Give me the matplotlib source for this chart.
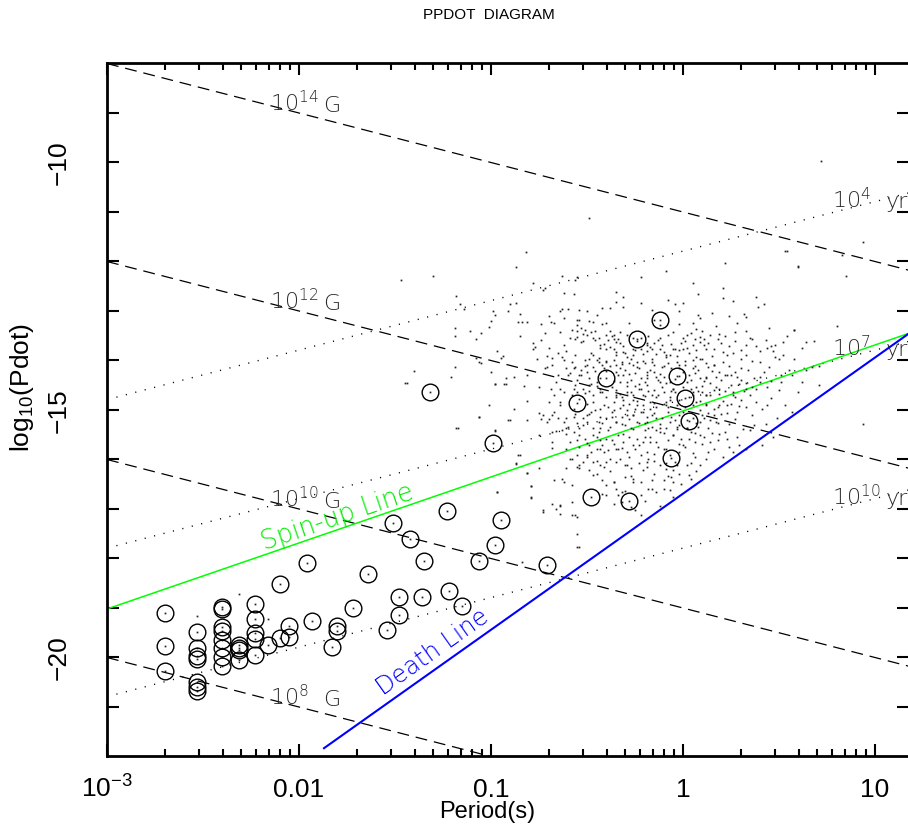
import matplotlib
matplotlib.use('Agg')
import matplotlib.pyplot as plt
from matplotlib import font_manager
import numpy as np

names = {f.name for f in font_manager.fontManager.ttflist}
sans = 'Liberation Sans Narrow' if 'Liberation Sans Narrow' in names else 'Liberation Sans'
plt.rcParams['font.family'] = [sans, 'DejaVu Sans']
plt.rcParams['mathtext.default'] = 'regular'

# circled (binary) pulsars: log10 P [s], log10 Pdot
bin_logp = [-2.70, -2.70, -2.70, -2.53, -2.53, -2.53, -2.53, -2.53, -2.53, -2.53,
            -2.40, -2.40, -2.40, -2.40, -2.40, -2.40, -2.40, -2.40,
            -2.31, -2.31, -2.31, -2.31, -2.23, -2.23, -2.23, -2.23, -2.23,
            -2.16, -2.10, -2.10, -2.05, -2.05, -1.96, -1.93, -1.80, -1.80, -1.83,
            -1.72, -1.64, -1.54, -1.48, -1.48, -1.32, -0.99, -1.23, -1.51, -1.42,
            -0.95, -0.98, -1.35, -1.06, -0.71, -1.36, -1.22, -1.15,
            -0.55, -0.40, -0.12, -0.24, -0.03, 0.01, 0.03, -0.06, -0.48, -0.28]
bin_logpdot = [-19.12, -19.77, -20.28, -19.50, -19.82, -19.97, -20.04, -20.51, -20.61, -20.69,
               -18.99, -19.03, -19.39, -19.47, -19.65, -19.82, -20.01, -20.18,
               -19.76, -19.81, -19.86, -20.07, -18.93, -19.23, -19.51, -19.64, -19.95,
               -19.75, -19.62, -18.52, -19.37, -19.59, -18.10, -19.27, -19.37, -19.47, -19.79,
               -19.01, -18.32, -19.45, -18.79, -19.16, -14.64, -15.67, -17.06, -17.29, -17.61,
               -17.24, -17.73, -18.07, -18.07, -18.15, -18.79, -18.67, -18.97,
               -14.86, -14.36, -13.19, -13.58, -14.33, -14.76, -15.24, -15.98, -16.76, -16.84]

# isolated pulsars, (log10 P, log10 Pdot)
field_upper_left = [
    (-0.82, -11.81), (-0.87, -12.13), (-1.30, -12.31), (-1.18, -12.71), (-0.78, -12.44),
    (-0.72, -12.54), (-0.73, -12.58), (-0.63, -12.31), (-0.56, -12.38), (-0.55, -12.33),
    (-0.62, -12.65), (-0.57, -12.67), (-0.35, -12.62), (-0.35, -12.82), (-1.16, -12.87),
    (-1.14, -12.96), (-0.99, -13.02), (-0.98, -13.09), (-0.91, -13.00), (-0.90, -12.87),
    (-0.87, -12.85), (-1.00, -13.21), (-1.01, -13.34), (-0.85, -13.08), (-0.86, -13.24),
    (-0.84, -13.24), (-0.81, -13.23), (-0.70, -13.11), (-0.69, -13.24), (-0.64, -13.01),
    (-0.60, -12.96), (-0.63, -12.96), (-0.54, -12.99), (-0.50, -13.01), (-0.42, -12.94),
    (-0.38, -12.94), (-1.19, -13.36), (-1.11, -13.41), (-1.19, -13.52), (-1.08, -13.58),
    (-1.05, -13.46), (-0.85, -13.51), (-0.74, -13.27), (-0.67, -13.26), (-0.64, -13.44),
    (-0.55, -13.29), (-0.55, -13.41), (-0.54, -13.19), (-0.51, -13.39), (-0.49, -13.21),
    (-0.47, -13.24), (-0.48, -13.43), (-0.42, -13.28), (-0.40, -13.26), (-0.38, -13.41),
    (-0.36, -13.50), (-0.36, -13.58), (-0.78, -13.65), (-0.77, -13.73), (-0.78, -13.77),
    (-0.74, -13.60), (-0.70, -13.75), (-0.62, -13.70), (-0.61, -13.82), (-0.59, -13.55),
    (-0.56, -13.58), (-0.55, -13.53), (-0.53, -13.63), (-0.46, -13.60), (-0.43, -13.75),
    (-0.40, -13.77), (-0.38, -13.73), (-0.35, -13.63), (-0.35, -13.83), (-0.97, -13.82),
    (-0.94, -13.91), (-0.95, -13.95), (-1.08, -13.95), (-1.06, -14.04), (-1.05, -14.07),
    (-0.76, -13.97), (-0.71, -13.91), (-0.68, -13.95), (-0.63, -13.93), (-0.62, -14.00),
    (-0.56, -13.90), (-0.51, -14.00), (-0.49, -13.97), (-0.47, -13.90), (-0.45, -14.00),
    (-0.40, -14.02), (-0.36, -14.00), (-0.35, -14.10), (-1.19, -14.14), (-1.21, -14.34),
    (-1.00, -14.25), (-0.92, -14.37), (-0.88, -14.34), (-0.81, -14.31), (-0.72, -14.17),
    (-0.71, -14.14), (-0.68, -14.10), (-0.65, -14.31), (-0.61, -14.17), (-0.59, -14.27),
    (-0.56, -14.14), (-0.53, -14.20), (-0.50, -14.24), (-0.49, -14.37), (-0.47, -14.14),
    (-0.42, -14.10), (-0.41, -14.17), (-0.35, -14.24), (-0.98, -14.49), (-0.92, -14.49),
    (-0.83, -14.52), (-0.75, -14.54), (-0.69, -14.58), (-0.67, -14.71), (-0.62, -14.64),
    (-0.58, -14.71), (-0.55, -14.64), (-0.52, -14.58), (-0.49, -14.51), (-0.47, -14.71),
    (-0.43, -14.58), (-0.35, -14.61), (-0.35, -14.71),
]
field_upper_right = [
    (0.54, -11.79), (0.22, -12.04), (0.60, -12.13), (-0.09, -12.20), (-0.22, -12.33),
    (0.05, -12.44), (0.21, -12.55), (0.08, -12.67), (-0.31, -12.72), (-0.08, -12.79),
    (-0.04, -12.87), (0.00, -12.85), (0.21, -12.75), (0.26, -12.81), (0.38, -12.73),
    (0.42, -12.87), (0.39, -12.92), (0.24, -13.12), (0.32, -13.07), (0.33, -13.14),
    (-0.22, -12.84), (-0.31, -12.92), (-0.16, -12.98), (-0.02, -13.01), (-0.15, -13.19),
    (0.08, -13.09), (0.09, -13.16), (-0.02, -13.28), (0.07, -13.38), (0.10, -13.41),
    (0.17, -13.31), (0.19, -13.47), (0.27, -13.43), (0.33, -13.41), (0.36, -13.58),
    (0.52, -13.64), (0.54, -13.51), (0.58, -13.39), (0.62, -13.75), (0.64, -13.63),
    (0.68, -13.62), (0.44, -13.75), (0.46, -13.71), (0.47, -13.82), (0.38, -13.71),
    (0.33, -13.89), (0.30, -13.97), (0.36, -14.02), (0.40, -14.04), (0.45, -14.14),
    (0.48, -13.93), (0.52, -13.89), (0.58, -13.97), (0.21, -13.83), (0.09, -13.53),
    (0.11, -13.58), (0.12, -13.77), (0.00, -13.55), (0.01, -13.62), (0.02, -13.75),
    (0.05, -13.70), (-0.02, -13.80), (-0.04, -13.77), (-0.07, -13.90), (-0.09, -13.93),
    (-0.12, -13.77), (-0.14, -13.87), (-0.16, -13.77), (-0.19, -13.65), (-0.19, -13.82),
    (-0.22, -13.77), (-0.26, -13.89), (-0.29, -13.93), (-0.31, -13.83), (-0.32, -14.04),
    (-0.28, -14.07), (-0.24, -14.04), (-0.23, -14.17), (-0.20, -14.07), (-0.16, -13.97),
    (-0.15, -14.10), (-0.11, -14.14), (-0.08, -14.07), (-0.03, -14.04), (-0.02, -14.17),
    (0.01, -14.10), (0.05, -14.00), (0.07, -13.93), (0.10, -13.97), (0.12, -14.07),
    (0.16, -14.10), (0.19, -14.24), (0.22, -14.31), (0.27, -14.24), (0.25, -14.51),
    (0.30, -14.41), (0.33, -14.47), (0.37, -14.37), (0.40, -14.34), (0.51, -14.31),
    (0.57, -14.31), (0.64, -14.20), (0.67, -14.14), (0.71, -14.12), (-0.31, -14.31),
    (-0.29, -14.44), (-0.25, -14.27), (-0.22, -14.37), (-0.19, -14.31), (-0.15, -14.24),
    (-0.13, -14.41), (-0.10, -14.34), (-0.09, -14.47), (0.03, -14.31), (0.06, -14.27),
    (0.09, -14.37), (0.12, -14.34), (0.14, -14.47), (0.17, -14.54), (0.07, -14.54),
    (0.10, -14.64), (0.05, -14.71), (-0.05, -14.58), (-0.10, -14.64), (-0.15, -14.61),
    (-0.19, -14.51), (-0.23, -14.58), (-0.26, -14.71), (-0.29, -14.64), (-0.32, -14.74),
    (-0.21, -14.71), (-0.14, -14.74), (-0.07, -14.74), (0.12, -14.71), (0.19, -14.68),
    (0.26, -14.64), (0.38, -14.58), (0.44, -14.54), (0.51, -14.44),
]
field_lower_left = [
    (-1.01, -14.90), (-1.06, -15.15), (-0.90, -15.22), (-0.81, -15.22), (-1.18, -15.38),
    (-0.98, -15.43), (-0.75, -15.08), (-0.73, -15.11), (-0.74, -15.19), (-0.70, -15.19),
    (-0.67, -15.05), (-0.64, -14.91), (-0.65, -15.18), (-0.62, -15.25), (-0.61, -15.18),
    (-0.60, -15.35), (-0.57, -15.15), (-0.55, -15.28), (-0.54, -15.38), (-0.52, -15.18),
    (-0.50, -15.26), (-0.49, -15.10), (-0.47, -15.37), (-0.43, -15.15), (-0.42, -15.28),
    (-0.40, -15.18), (-0.37, -15.05), (-0.35, -15.25), (-0.68, -15.45), (-0.66, -15.44),
    (-0.63, -15.42), (-0.61, -15.49), (-0.57, -15.45), (-0.59, -15.65), (-0.55, -15.62),
    (-0.54, -15.76), (-0.51, -15.59), (-0.49, -15.72), (-0.47, -15.52), (-0.48, -15.86),
    (-0.45, -15.79), (-0.43, -15.62), (-0.42, -15.72), (-0.40, -15.59), (-0.39, -15.82),
    (-0.36, -15.69), (-0.34, -15.52), (-0.34, -15.79), (-0.68, -15.78), (-0.85, -15.91),
    (-0.87, -16.11), (-0.81, -16.28), (-0.75, -16.19), (-0.67, -16.43), (-0.62, -16.46),
    (-0.61, -16.18), (-0.58, -15.99), (-0.55, -15.92), (-0.54, -16.19), (-0.52, -16.06),
    (-0.50, -15.96), (-0.49, -16.23), (-0.47, -16.06), (-0.45, -16.30), (-0.43, -16.13),
    (-0.41, -16.16), (-0.38, -15.99), (-0.35, -16.06), (-0.42, -16.43), (-0.40, -16.53),
    (-0.36, -16.46), (-0.35, -16.60), (-0.79, -16.54), (-0.79, -16.79), (-0.97, -16.67),
    (-0.64, -16.94), (-0.73, -17.07), (-0.66, -17.00), (-0.58, -16.87), (-0.56, -17.14),
    (-0.55, -17.17), (-0.40, -16.73), (-0.36, -16.90), (-0.34, -16.73), (-0.55, -17.51),
    (-0.54, -17.78),
]
field_lower_right = [
    (-0.31, -14.81), (-0.28, -14.88), (-0.24, -14.83), (-0.21, -14.91), (-0.17, -14.84),
    (-0.14, -14.95), (-0.10, -14.88), (-0.07, -14.81), (-0.03, -14.91), (0.07, -14.84),
    (0.12, -14.88), (0.16, -14.98), (0.19, -14.91), (0.25, -14.88), (0.30, -14.81),
    (0.33, -14.95), (0.38, -14.84), (0.44, -14.91), (0.49, -15.18), (0.28, -15.05),
    (0.23, -15.08), (0.13, -15.08), (0.11, -15.18), (0.17, -15.25), (0.07, -15.28),
    (0.02, -15.38), (-0.02, -15.32), (-0.07, -15.25), (-0.11, -15.18), (-0.15, -15.08),
    (-0.19, -15.15), (-0.22, -15.05), (-0.26, -15.11), (-0.29, -15.01), (-0.32, -15.15),
    (-0.30, -15.32), (-0.27, -15.38), (-0.23, -15.28), (-0.20, -15.42), (-0.16, -15.35),
    (-0.12, -15.45), (-0.09, -15.38), (-0.05, -15.52), (-0.01, -15.59), (0.04, -15.45),
    (0.06, -15.65), (0.11, -15.55), (0.14, -15.65), (0.19, -15.49), (0.23, -15.59),
    (0.28, -15.55), (0.29, -15.72), (0.33, -15.79), (0.26, -15.86), (0.21, -15.96),
    (0.16, -15.79), (0.13, -15.86), (0.12, -15.99), (0.09, -16.13), (0.06, -15.96),
    (0.04, -16.09), (0.01, -15.76), (-0.02, -15.86), (-0.04, -16.06), (-0.10, -15.79),
    (-0.14, -15.65), (-0.17, -15.55), (-0.21, -15.65), (-0.24, -15.59), (-0.28, -15.55),
    (-0.31, -15.65), (-0.29, -15.86), (-0.25, -15.79), (-0.22, -15.92), (-0.18, -15.99),
    (-0.15, -15.89), (-0.12, -16.13), (-0.09, -16.09), (-0.05, -16.23), (-0.02, -16.30),
    (0.03, -16.33), (0.04, -16.40), (-0.01, -16.50), (-0.06, -16.36), (-0.10, -16.43),
    (-0.15, -16.30), (-0.19, -16.16), (-0.23, -16.09), (-0.27, -16.19), (-0.30, -16.13),
    (-0.30, -16.36), (-0.26, -16.40), (-0.22, -16.46), (-0.18, -16.60), (-0.16, -16.43),
    (-0.10, -16.60), (-0.05, -16.77), (-0.14, -16.67), (-0.22, -16.73), (-0.25, -17.04),
    (-0.22, -17.14), (-0.27, -16.97), (-0.32, -16.67), (-0.32, -16.87), (0.41, -15.72),
    (0.37, -15.32), (0.35, -15.42),
]
field_core = [
    (-0.55, -13.19), (-0.53, -13.36), (-0.50, -13.50), (-0.43, -13.70), (-0.36, -13.77),
    (-0.26, -13.77), (-0.35, -13.90), (-0.40, -14.04), (-0.50, -14.10), (-0.57, -14.17),
    (-0.54, -14.31), (-0.45, -14.44), (-0.33, -14.17), (-0.26, -14.10), (-0.16, -14.04),
    (-0.09, -13.90), (0.00, -13.77), (0.09, -13.97), (0.16, -14.10), (0.23, -14.31),
    (0.19, -14.58), (0.12, -14.71), (0.05, -14.91), (-0.02, -15.11), (-0.09, -14.91),
    (-0.16, -14.71), (-0.22, -14.58), (-0.29, -14.71), (-0.36, -14.84), (-0.43, -14.98),
    (-0.50, -15.11), (-0.57, -14.98), (-0.64, -14.84), (-0.68, -15.11), (-0.61, -15.38),
    (-0.54, -15.52), (-0.43, -15.38), (-0.35, -15.25), (-0.26, -15.11), (-0.19, -15.25),
    (-0.12, -15.38), (-0.05, -15.52), (0.02, -15.38), (0.09, -15.25), (0.16, -15.11),
    (0.23, -14.91), (0.26, -14.71), (0.33, -14.58), (0.40, -14.44), (0.30, -14.17),
    (0.23, -13.90), (0.16, -13.77), (0.09, -13.63), (0.02, -13.50), (-0.05, -13.43),
    (-0.12, -13.56), (-0.19, -13.70), (-0.26, -13.56), (-0.33, -13.43), (-0.40, -13.50),
    (-0.47, -13.56), (-0.43, -15.79), (-0.35, -15.79), (-0.26, -15.72), (-0.17, -15.66),
    (-0.09, -15.79), (0.00, -15.72), (0.09, -15.52), (-0.50, -15.92), (-0.40, -16.06),
    (-0.29, -16.13), (-0.19, -16.06), (-0.09, -16.20), (0.02, -16.13), (-0.26, -16.47),
    (-0.16, -16.60), (-0.05, -16.47), (-0.36, -16.47), (-0.47, -16.33), (-0.54, -16.13),
    (-0.61, -15.79), (-0.68, -15.66), (-0.75, -15.52), (-0.71, -15.25), (-0.64, -14.58),
    (-0.57, -14.58), (-0.43, -14.64), (-0.33, -14.44), (-0.19, -14.37), (-0.12, -14.44),
    (-0.05, -14.58), (0.04, -14.58), (0.12, -14.37), (0.05, -14.17), (-0.02, -14.10),
    (-0.52, -13.62), (-0.48, -13.85), (-0.44, -13.95), (-0.39, -13.60), (-0.33, -13.66),
    (-0.30, -13.85), (-0.27, -13.98), (-0.24, -13.62), (-0.21, -13.88), (-0.17, -13.74),
    (-0.13, -13.60), (-0.10, -13.83), (-0.06, -13.68), (-0.03, -13.92), (0.03, -13.86),
    (0.06, -13.58), (0.13, -13.66), (0.15, -13.92), (0.18, -13.58), (0.24, -13.72),
    (0.27, -13.62), (0.30, -13.80), (-0.58, -14.05), (-0.53, -14.30), (-0.46, -14.22),
    (-0.43, -14.36), (-0.38, -14.12), (-0.34, -14.30), (-0.30, -14.20), (-0.27, -14.40),
    (-0.24, -14.15), (-0.20, -14.45), (-0.17, -14.20), (-0.12, -14.28), (-0.06, -14.16),
    (-0.04, -14.38), (0.00, -14.25), (0.02, -14.45), (0.08, -14.20), (0.11, -14.42),
    (0.15, -14.22), (0.20, -14.40), (0.24, -14.12), (0.28, -14.35), (-0.56, -14.50),
    (-0.51, -14.66), (-0.45, -14.52), (-0.40, -14.75), (-0.37, -14.55), (-0.33, -14.68),
    (-0.29, -14.52), (-0.26, -14.80), (-0.23, -14.48), (-0.18, -14.62), (-0.15, -14.86),
    (-0.11, -14.55), (-0.08, -14.95), (-0.04, -14.65), (0.00, -14.55), (0.03, -14.75),
    (0.08, -14.62), (0.12, -14.90), (0.16, -14.60), (0.21, -14.82), (0.27, -14.74),
    (0.32, -14.62), (-0.50, -14.88), (-0.46, -15.02), (-0.41, -14.90), (-0.37, -15.15),
    (-0.33, -14.96), (-0.28, -15.20), (-0.25, -14.98), (-0.20, -15.28), (-0.16, -15.12),
    (-0.12, -15.30), (-0.08, -15.05), (-0.04, -15.22), (0.00, -15.05), (0.05, -15.18),
    (0.09, -15.00), (0.14, -15.22), (0.20, -15.10), (0.24, -15.30), (-0.44, -15.45),
    (-0.38, -15.35), (-0.31, -15.50), (-0.26, -15.40), (-0.20, -15.55), (-0.14, -15.42),
    (-0.08, -15.62), (-0.03, -15.40), (0.03, -15.60), (0.08, -15.35), (0.15, -15.48),
]
field_core_more = [
    (-0.58, -13.40), (-0.52, -13.48), (-0.46, -13.42), (-0.44, -13.55), (-0.41, -13.68),
    (-0.37, -13.52), (-0.34, -13.58), (-0.31, -13.72), (-0.29, -13.49), (-0.25, -13.80),
    (-0.22, -13.55), (-0.18, -13.52), (-0.15, -13.66), (-0.11, -13.70), (-0.08, -13.50),
    (-0.05, -13.78), (-0.01, -13.66), (0.04, -13.45), (0.07, -13.80), (0.11, -13.70),
    (0.14, -13.50), (0.20, -13.65), (0.22, -13.52), (0.26, -13.85), (0.33, -13.70),
    (0.35, -13.55), (0.40, -13.82), (0.43, -13.60), (0.48, -13.70), (0.50, -13.98),
    (-0.60, -14.30), (-0.55, -14.40), (-0.51, -14.12), (-0.48, -14.48), (-0.44, -14.05),
    (-0.40, -14.22), (-0.36, -14.42), (-0.32, -14.08), (-0.28, -14.28), (-0.25, -14.52),
    (-0.21, -14.02), (-0.19, -14.25), (-0.14, -14.35), (-0.10, -14.12), (-0.07, -14.45),
    (-0.02, -14.32), (0.01, -14.02), (0.04, -14.40), (0.06, -14.12), (0.10, -14.52),
    (0.13, -14.15), (0.17, -14.35), (0.21, -14.05), (0.25, -14.30), (0.29, -14.48),
    (0.34, -14.20), (0.36, -14.55), (0.42, -14.25), (0.46, -14.42), (0.50, -14.60),
    (-0.54, -14.78), (-0.49, -14.62), (-0.47, -14.85), (-0.42, -14.65), (-0.39, -14.95),
    (-0.35, -14.74), (-0.31, -14.90), (-0.27, -14.65), (-0.24, -14.90), (-0.20, -14.72),
    (-0.17, -14.98), (-0.13, -14.70), (-0.09, -14.85), (-0.06, -14.62), (-0.02, -14.80),
    (0.01, -14.95), (0.05, -14.65), (0.09, -14.82), (0.14, -14.70), (0.18, -14.95),
    (0.22, -14.62), (0.29, -14.92), (0.35, -14.70), (0.41, -14.98), (0.46, -14.76),
    (0.53, -14.90), (0.57, -15.05), (-0.56, -15.10), (-0.52, -15.32), (-0.48, -15.05),
    (-0.44, -15.25), (-0.39, -15.42), (-0.36, -15.02), (-0.32, -15.30), (-0.29, -15.12),
    (-0.24, -15.25), (-0.21, -15.05), (-0.18, -15.38), (-0.14, -15.18), (-0.10, -15.48),
    (-0.06, -15.15), (-0.03, -15.35), (0.02, -15.22), (0.06, -15.48), (0.10, -15.12),
    (0.13, -15.38), (0.18, -15.28), (0.22, -15.45), (0.27, -15.20), (0.31, -15.40),
    (0.36, -15.12), (0.43, -15.30), (0.47, -15.55), (-0.50, -15.68), (-0.45, -15.55),
    (-0.41, -15.85), (-0.37, -15.62), (-0.32, -15.78), (-0.28, -15.95), (-0.23, -15.72),
    (-0.19, -15.85), (-0.13, -15.75), (-0.07, -15.92), (-0.02, -15.70), (0.05, -15.88),
    (0.10, -15.70), (0.18, -15.62), (0.24, -15.75), (-0.45, -16.05), (-0.38, -16.25),
    (-0.33, -16.00), (-0.27, -16.35), (-0.21, -16.22), (-0.15, -16.05), (-0.08, -16.35),
    (-0.03, -16.12), (0.07, -16.25), (-0.30, -16.65), (-0.20, -16.85), (-0.12, -16.95),
    (-0.42, -16.70), (-0.07, -16.62), (-0.65, -13.85), (-0.66, -14.45), (-0.70, -14.85),
    (-0.72, -13.45), (-0.62, -13.15), (-0.45, -13.10), (-0.28, -13.25), (-0.12, -13.30),
    (0.05, -13.25), (0.15, -13.05), (0.28, -13.25), (0.45, -13.35), (0.55, -14.20),
    (0.60, -14.65), (0.62, -14.45),
]
field_sparse = [
    (-0.49, -11.13), (-1.47, -12.38), (-1.40, -14.22), (-1.45, -14.47),
    (0.72, -9.97), (0.53, -11.80), (0.60, -12.11), (0.85, -12.31), (0.83, -11.88),
    (0.94, -11.62), (0.80, -13.32), (0.58, -13.40), (0.71, -14.51), (0.94, -15.30),
    (-2.31, -18.72), (-2.53, -19.18), (-2.16, -19.23),
    (-1.44, -14.47), (-0.98, -14.49), (-0.93, -14.49), (-1.17, -15.38), (-1.06, -15.15),
    (-0.98, -15.42), (-0.81, -14.83), (-0.91, -15.22), (-0.88, -14.98), (-0.86, -15.91),
    (-0.87, -16.09), (-0.81, -16.28), (-0.79, -16.54), (-0.79, -16.77), (-0.73, -17.04),
    (-0.68, -16.90), (-0.64, -17.11), (-0.58, -17.13), (-0.64, -16.92), (-0.97, -16.67),
    (-0.55, -16.16), (-0.59, -15.99), (-0.63, -16.40), (-0.58, -16.53), (-0.84, -18.08),
    (-0.55, -17.77),
]

b_fields = [8, 10, 12, 14]          # log10 B [G]
ages = [4, 7, 10]                   # log10 tau [yr]
spinup_c = -15.03
death_slope, death_c, death_start = 2.75, -16.7, -1.87

field = np.array(field_upper_left + field_upper_right + field_lower_left
                 + field_lower_right + field_core + field_core_more + field_sparse)
bin_logp = np.array(bin_logp)
bin_logpdot = np.array(bin_logpdot)

fig = plt.figure(figsize=(9.08, 8.29), dpi=100)
ax = fig.add_axes([107 / 908, 72 / 829, 802 / 908, 693 / 829])
ax.set_xscale('log')
xmin, xmax = -3.0, 1.177
ax.set_xlim(10 ** xmin, 10 ** xmax)
ax.set_ylim(-22, -8)

lp = np.linspace(xmin, xmax, 200)
thin = dict(family=['DejaVu Sans'], weight='light', color='#2a2a2a', fontsize=16)

# constant field lines, B = 3.2e19 sqrt(P Pdot)
for b in b_fields:
    ax.plot(10 ** lp, 2 * (b - np.log10(3.2e19)) - lp, color='k', lw=0.9,
            dashes=(9.5, 5.5))
    x0 = -2.15
    y0 = 2 * (b - np.log10(3.2e19)) - x0 - 0.1
    ax.text(10 ** x0, y0, '$10^{%d}$' % b, va='baseline', ha='left', **thin)
    ax.text(10 ** -1.875, y0, 'G', va='baseline', ha='left', **thin)

# characteristic age lines, tau = P / (2 Pdot)
for a in ages:
    ax.plot(10 ** lp, lp - np.log10(2) - (a + np.log10(3.156e7)), color='k', lw=1.0,
            dashes=(0.8, 6.2))
    x0 = 0.776
    y0 = x0 - np.log10(2) - (a + np.log10(3.156e7)) + 0.12
    ax.text(10 ** x0, y0, '$10^{%d}$' % a, va='baseline', ha='left', **thin)
    ax.text(10 ** 1.057, y0, 'yr', va='baseline', ha='left', **thin)

# spin-up and death lines
ax.plot(10 ** lp, 4 / 3 * lp + spinup_c, color='#00ff00', lw=1.1)
ld = np.linspace(death_start, xmax, 50)
ax.plot(10 ** ld, death_slope * ld + death_c, color='#0000ff', lw=1.5)

ax.text(10 ** -2.18, 4 / 3 * -2.18 + spinup_c + 0.12, 'Spin-up Line', color='#00ee00',
        rotation=18.9, rotation_mode='anchor', ha='left', va='baseline',
        family=['DejaVu Sans'], weight='light', fontsize=18.5)
ax.text(10 ** -1.56, death_slope * -1.56 + death_c + 0.22, 'Death Line', color='#0000ff',
        rotation=35.3, rotation_mode='anchor', ha='left', va='baseline',
        family=['DejaVu Sans'], weight='light', fontsize=17.5)

# pulsars
ax.plot(10 ** field[:, 0], field[:, 1], 's', ms=1.25, mew=0, color='#222222')
ax.plot(10 ** bin_logp, bin_logpdot, 's', ms=1.25, mew=0, color='#222222')
ax.plot(10 ** bin_logp, bin_logpdot, 'o', ms=12, mfc='none', mec='k', mew=1.0)

# axes frame and ticks
for s in ax.spines.values():
    s.set_linewidth(2)
ax.set_xticks([1e-3, 1e-2, 0.1, 1, 10])
ax.set_xticklabels(['$10^{-3}$', '0.01', '0.1', '1', '10'])
for t in ax.get_xticklabels():
    t.set_va('baseline')
ax.set_yticks([-20, -15, -10])
ax.set_yticklabels(['\u221220', '\u221215', '\u221210'], rotation=90, va='center')
ax.set_yticks(np.arange(-21, -8), minor=True)
ax.tick_params(which='both', direction='in', top=True, right=True, width=1.5,
               labelsize=19)
ax.tick_params(which='major', length=8.6)
ax.tick_params(axis='x', which='minor', length=5)
ax.tick_params(axis='y', which='minor', length=8.6)
ax.tick_params(axis='x', pad=29)
ax.tick_params(axis='y', pad=26)

fig.text(489 / 908, 1 - 15 / 829, 'PPDOT  DIAGRAM', ha='center', va='center', fontsize=11)
fig.text(487 / 908, 1 - 812 / 829, 'Period(s)', ha='center', va='center', fontsize=17)
fig.text(22 / 908, 1 - 388 / 829, 'log$_{10}$(Pdot)', rotation=90, ha='center',
         va='center', fontsize=19)

fig.savefig('out.png', dpi=100)
